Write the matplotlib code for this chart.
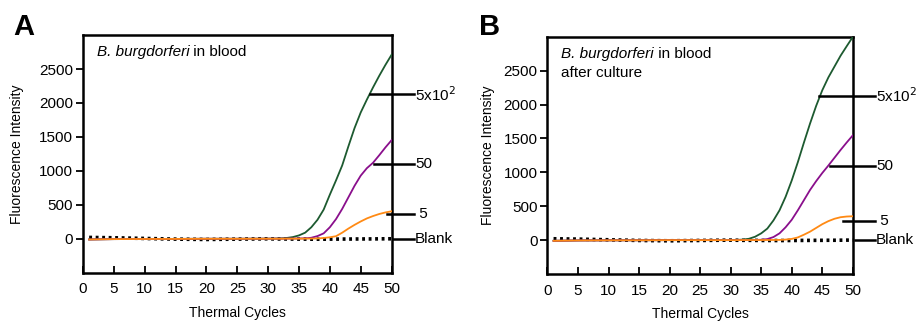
import matplotlib.pyplot as plt

plt.rcParams['font.family'] = ['Liberation Sans', 'DejaVu Sans']

cycles = [1, 5, 10, 15, 20, 25, 30, 31, 32, 33, 34, 35, 36, 37, 38, 39, 40,
          41, 42, 43, 44, 45, 46, 47, 48, 49, 50]

# panel A: B. burgdorferi in blood
a_500 = [-10, -5, -3, -2, 0, 0, 2, 3, 6, 12, 25, 50, 90, 170, 280, 430, 650,
         860, 1080, 1360, 1630, 1860, 2050, 2230, 2400, 2560, 2710]
a_50 = [-10, -5, -3, -2, 0, 0, 1, 2, 2, 3, 4, 5, 6, 15, 40, 80, 170,
        290, 440, 610, 780, 930, 1040, 1120, 1230, 1345, 1452]
a_5 = [-10, -5, -3, -2, 0, 0, 1, 1, 1, 2, 2, 2, 3, 3, 5, 12, 22,
       38, 90, 150, 205, 255, 300, 335, 365, 388, 405]
a_blank = [20, 15, 5, -5, -10, -5, 0, -2, -3, -3, -4, -5, -5, -6, -6, -6, -5,
           -5, -4, -4, -3, -3, -2, -2, -1, 0, 0]

# panel B: after culture
b_500 = [-10, -5, -3, -2, 0, 0, 0, 3, 8, 20, 50, 100, 170, 290, 440, 640, 880,
         1150, 1440, 1720, 1980, 2210, 2400, 2560, 2720, 2860, 2997]
b_50 = [-10, -5, -3, -2, 0, 0, 0, 1, 1, 2, 3, 5, 15, 45, 100, 190, 300,
        440, 590, 740, 870, 990, 1100, 1215, 1330, 1440, 1545]
b_5 = [-10, -5, -3, -2, 0, 0, 0, 0, 1, 1, 1, 1, 2, 2, 3, 8, 18,
       40, 80, 125, 180, 235, 280, 315, 338, 348, 352]
b_blank = [20, 15, 5, -5, -10, -5, 0, -2, -3, -3, -4, -5, -5, -6, -6, -6, -5,
           -5, -4, -4, -3, -3, -2, -2, -1, 0, 0]

labels = ['5x10$^2$', '50', ' 5', 'Blank']
a_label_y = [2127, 1100, 358, 0]
a_label_x = [46.5, 47.1, 49.3, 50.3]
b_label_y = [2126, 1088, 285, 0]
b_label_x = [44.5, 46.2, 48.4, 50.3]

colors = ['#1d5a30', '#8a0f8c', '#ff8a14']

fig = plt.figure(figsize=(9.17, 3.22), dpi=100)
axA = fig.add_axes([0.0905, 0.153, 0.3365, 0.738])
axB = fig.add_axes([0.597, 0.149, 0.333, 0.737])

panels = [
    (axA, [a_500, a_50, a_5], a_blank, a_label_x, a_label_y, 11, None),
    (axB, [b_500, b_50, b_5], b_blank, b_label_x, b_label_y, 6,
     'after culture'),
]

for ax, series, blank, lx, ly, ypad, extra in panels:
    ax.plot(cycles, blank, color='black', lw=2.6, ls=(0, (0.8, 1.0)),
            zorder=2)
    for vals, c in zip(series, colors):
        ax.plot(cycles, vals, color=c, lw=1.3, zorder=3)
    for x0, y0, lab in zip(lx, ly, labels):
        ax.plot([x0, 53.7], [y0, y0], color='black', lw=1.8,
                clip_on=False, zorder=4)
        ax.text(53.8, y0, lab, fontsize=11, va='center', ha='left')
    ax.set_xlim(0, 50)
    ax.set_ylim(-500, 3000)
    ax.set_xticks(range(0, 51, 5))
    ax.set_yticks(range(0, 2501, 500))
    ax.tick_params(axis='x', direction='in', length=5, width=1.3,
                   labelsize=11, pad=7)
    ax.tick_params(axis='y', direction='out', length=5, width=1.3,
                   labelsize=11, pad=2)
    for s in ax.spines.values():
        s.set_linewidth(1.8)
    ax.set_xlabel('Thermal Cycles', fontsize=10, labelpad=7)
    ax.set_ylabel('Fluorescence Intensity', fontsize=10, labelpad=ypad)
    t = ax.text(0.045, 0.957, 'B. burgdorferi', transform=ax.transAxes,
                fontsize=11, style='italic', va='top', ha='left')
    ax.annotate(' in blood', xy=(1, 0), xycoords=t, fontsize=11,
                va='bottom', ha='left')
    if extra:
        ax.text(0.045, 0.877, extra, transform=ax.transAxes,
                fontsize=11, va='top', ha='left')

fig.text(0.015, 0.915, 'A', fontsize=21, fontweight='bold', va='center')
fig.text(0.522, 0.915, 'B', fontsize=21, fontweight='bold', va='center')

fig.savefig('out.png', dpi=100)
